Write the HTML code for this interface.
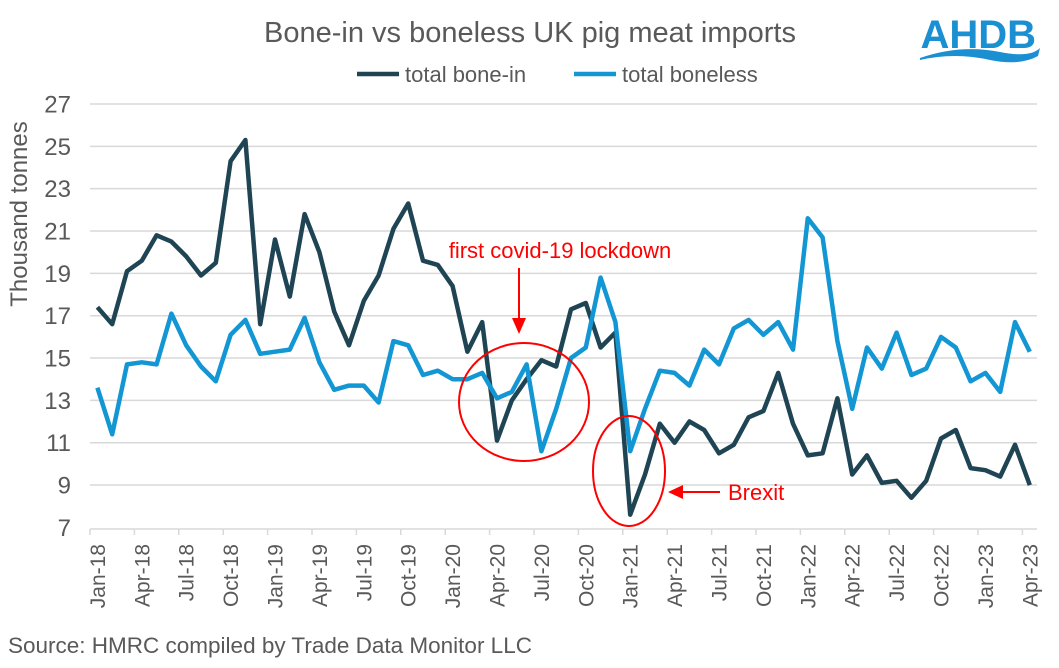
<!DOCTYPE html>
<html><head><meta charset="utf-8"><style>
body{margin:0;background:#fff;}
svg text{font-family:"Liberation Sans",Arial,sans-serif;}
</style></head><body>
<svg width="1059" height="663" viewBox="0 0 1059 663" xmlns="http://www.w3.org/2000/svg">
<rect width="1059" height="663" fill="#fff"/>
<text x="530" y="42" font-size="29" fill="#595959" text-anchor="middle">Bone-in vs boneless UK pig meat imports</text>
<line x1="357" y1="74" x2="399" y2="74" stroke="#1f4454" stroke-width="4.5"/>
<text x="405" y="82" font-size="22" fill="#595959">total bone-in</text>
<line x1="574" y1="74" x2="616" y2="74" stroke="#1296d4" stroke-width="4.5"/>
<text x="622" y="82" font-size="22" fill="#595959">total boneless</text>
<text x="1036" y="48" font-size="40" font-weight="bold" fill="#1a8fd1" text-anchor="end">AHDB</text>
<path d="M920 58 Q960 44 1000 52 Q1030 58 1040 48 L1038 56 Q1020 66 990 60 Q955 52 920 60Z" fill="#1a8fd1"/>
<g id="grid"></g>
<g id="yl"></g>
<text transform="translate(27,214) rotate(-90)" font-size="24" fill="#595959" text-anchor="middle">Thousand tonnes</text>
<g id="xt"></g>
<text x="8" y="653" font-size="22.5" fill="#595959">Source: HMRC compiled  by Trade Data Monitor LLC</text>
<g id="series"></g>
<g stroke="#f00" stroke-width="2" fill="none">
<ellipse cx="524" cy="402" rx="65" ry="59"/>
<ellipse cx="629" cy="471" rx="36" ry="55"/>
</g>
<text x="560" y="258" font-size="22" fill="#f00" text-anchor="middle">first covid-19 lockdown</text>
<line x1="519" y1="268" x2="519" y2="322" stroke="#f00" stroke-width="2"/>
<path d="M512 318 L519 334 L526 318Z" fill="#f00"/>
<line x1="680" y1="492" x2="720" y2="492" stroke="#f00" stroke-width="2"/>
<path d="M668 492 L683 485 L683 499Z" fill="#f00"/>
<text x="728" y="500" font-size="22" fill="#f00">Brexit</text>
</svg>
<script>
const ns="http://www.w3.org/2000/svg";
function el(p,t,a,txt){const e=document.createElementNS(ns,t);for(const k in a)e.setAttribute(k,a[k]);if(txt)e.textContent=txt;p.appendChild(e);return e;}
const Y=v=>527.4-(v-7)*21.17, X=i=>97.4+14.8*i;
const g=document.getElementById('grid'), yl=document.getElementById('yl'), xt=document.getElementById('xt');
for(let v=9;v<=27;v+=2){el(g,'line',{x1:90,x2:1037,y1:Y(v),y2:Y(v),stroke:'#d9d9d9','stroke-width':1.5});}
for(let v=7;v<=27;v+=2){el(yl,'text',{x:71,y:Y(v)+8.5,'font-size':24,fill:'#595959','text-anchor':'end'},String(v));}
el(xt,'line',{x1:90,x2:1037,y1:529,y2:529,stroke:'#d9d9d9','stroke-width':1.5});
const mn=['Jan','Apr','Jul','Oct'];
for(let k=0;k<=21;k++){const x=90+44.4*k;el(xt,'line',{x1:x,x2:x,y1:529,y2:535,stroke:'#d9d9d9','stroke-width':1.5});
 const i=k*3;if(i<=63){const lab=mn[k%4]+'-'+(18+Math.floor(k/4));
 el(xt,'text',{transform:`translate(${X(i)+7.5},544) rotate(-90)`,'font-size':21,fill:'#595959','text-anchor':'end'},lab);}}
const bone=[17.4,16.6,19.1,19.6,20.8,20.5,19.8,18.9,19.5,24.3,25.3,16.6,20.6,17.9,21.8,20.0,17.2,15.6,17.7,18.9,21.1,22.3,19.6,19.4,18.4,15.3,16.7,11.1,13.0,14.0,14.9,14.6,17.3,17.6,15.5,16.2,7.6,9.5,11.9,11.0,12.0,11.6,10.5,10.9,12.2,12.5,14.3,11.9,10.4,10.5,13.1,9.5,10.4,9.1,9.2,8.4,9.2,11.2,11.6,9.8,9.7,9.4,10.9,9.0];
const bl=[13.6,11.4,14.7,14.8,14.7,17.1,15.6,14.6,13.9,16.1,16.8,15.2,15.3,15.4,16.9,14.8,13.5,13.7,13.7,12.9,15.8,15.6,14.2,14.4,14.0,14.0,14.3,13.1,13.4,14.7,10.6,12.6,15.0,15.5,18.8,16.7,10.6,12.6,14.4,14.3,13.7,15.4,14.7,16.4,16.8,16.1,16.7,15.4,21.6,20.7,15.8,12.6,15.5,14.5,16.2,14.2,14.5,16.0,15.5,13.9,14.3,13.4,16.7,15.3];
const s=document.getElementById('series');
const pts=a=>a.map((v,i)=>X(i).toFixed(1)+','+Y(v).toFixed(1)).join(' ');
el(s,'polyline',{points:pts(bone),fill:'none',stroke:'#1f4454','stroke-width':4.5,'stroke-linejoin':'round'});
el(s,'polyline',{points:pts(bl),fill:'none',stroke:'#1296d4','stroke-width':4.5,'stroke-linejoin':'round'});
</script>
</body></html>
